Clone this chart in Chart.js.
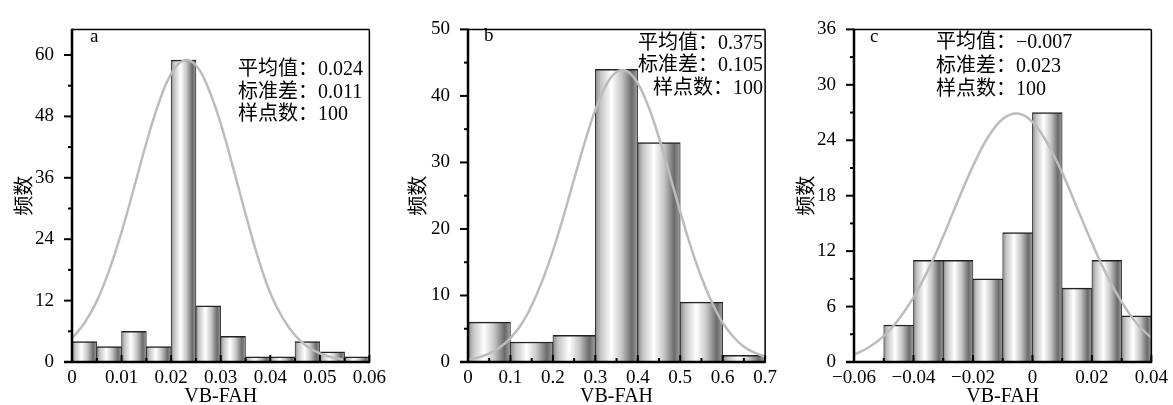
<!DOCTYPE html>
<html>
<head>
<meta charset="utf-8">
<script src="https://cdn.jsdelivr.net/npm/chart.js@4"></script>
<style>
  body { margin: 0; background: #fff; }
  .row { display: flex; width: 1173px; height: 405px; }
  canvas { display: block; }
</style>
</head>
<body>
<div class="row">
  <canvas id="chart-a" width="391" height="405"></canvas>
  <canvas id="chart-b" width="391" height="405"></canvas>
  <canvas id="chart-c" width="391" height="405"></canvas>
</div>
<script>
// panel a
const edgesA = [0, 0.005, 0.01, 0.015, 0.02, 0.025, 0.03, 0.035, 0.04, 0.045, 0.05, 0.055, 0.06];
const countsA = [4, 3, 6, 3, 59, 11, 5, 1, 1, 4, 2, 1];
const curveXA = [0, 0.0025, 0.005, 0.0075, 0.01, 0.0125, 0.015, 0.0175, 0.02, 0.0225, 0.025, 0.0275,
    0.03, 0.0325, 0.035, 0.0375, 0.04, 0.0425, 0.045, 0.0475, 0.05, 0.0525, 0.055];
const curveYA = [4.6, 7.6, 11.9, 17.9, 25.4, 34.0, 42.8, 50.6, 56.3, 58.9, 58.0, 53.5,
    46.6, 38.0, 29.0, 20.5, 13.5, 8.6, 5.2, 3.0, 1.7, 0.9, 0.4];
const statsA = ['平均值：0.024', '标准差：0.011', '样点数：100'];

// panel b
const edgesB = [0, 0.1, 0.2, 0.3, 0.4, 0.5, 0.6, 0.7];
const countsB = [6, 3, 4, 44, 33, 9, 1];
const curveXB = [0, 0.025, 0.05, 0.075, 0.1, 0.125, 0.15, 0.175, 0.2, 0.225, 0.25, 0.275, 0.3, 0.325,
    0.35, 0.375, 0.4, 0.425, 0.45, 0.475, 0.5, 0.525, 0.55, 0.575, 0.6, 0.625, 0.65, 0.675, 0.7];
const curveYB = [0.4, 0.7, 1.3, 2.2, 3.6, 5.6, 8.5, 12.2, 16.7, 21.9, 27.5, 33.0, 37.9, 41.6,
    43.6, 43.7, 41.9, 38.4, 33.7, 28.2, 22.6, 17.3, 12.7, 8.9, 5.9, 3.8, 2.3, 1.4, 0.8];
const statsB = ['平均值：0.375', '标准差：0.105', '样点数：100'];

// panel c
const edgesC = [-0.06, -0.05, -0.04, -0.03, -0.02, -0.01, 0, 0.01, 0.02, 0.03, 0.04];
const countsC = [0, 4, 11, 11, 9, 14, 27, 8, 11, 5];
const curveXC = [-0.06, -0.055, -0.05, -0.045, -0.04, -0.035, -0.03, -0.025, -0.02, -0.015, -0.01,
    -0.005, 0, 0.005, 0.01, 0.015, 0.02, 0.025, 0.03, 0.035, 0.04];
const curveYC = [0.8, 1.6, 2.8, 4.6, 7.0, 10.0, 13.6, 17.5, 21.2, 24.3, 26.3,
    26.9, 26.0, 23.7, 20.5, 16.7, 12.9, 9.4, 6.5, 4.2, 2.6];
const statsC = ['平均值：−0.007', '标准差：0.023', '样点数：100'];

const SERIF = '"Liberation Serif", "Noto Sans CJK SC", serif';
Chart.defaults.font.family = SERIF;
Chart.defaults.color = '#000';

function barGradient(c, edges) { // cylinder-like shading across each bar
    const chart = c.chart;
    const xs = chart.scales.x;
    if (c.type !== 'data' || !xs) return '#cccccc';
    const l = xs.getPixelForValue(edges[c.dataIndex]);
    const r = xs.getPixelForValue(edges[c.dataIndex + 1]);
    if (!isFinite(l) || !isFinite(r) || r <= l) return '#cccccc';
    const g = chart.ctx.createLinearGradient(l, 0, r, 0);
    g.addColorStop(0, '#8a8a8a');
    g.addColorStop(0.12, '#c4c4c4');
    g.addColorStop(0.38, '#ffffff');
    g.addColorStop(0.62, '#c6c6c6');
    g.addColorStop(0.86, '#6a6a6a');
    g.addColorStop(1, '#a0a0a0');
    return g;
}

const decor = { // frame, tick marks, panel letter and stats text
    id: 'decor',
    afterDatasetsDraw(chart, args, o) {
        const {ctx, chartArea: a, scales: {x, y}} = chart;
        const seg = (x1, y1, x2, y2) => { ctx.beginPath(); ctx.moveTo(x1, y1); ctx.lineTo(x2, y2); ctx.stroke(); };
        ctx.save();
        ctx.strokeStyle = '#000';
        ctx.lineWidth = 2;
        const yv = y.ticks.map(t => t.value);
        yv.forEach((v, i) => {
            const p = y.getPixelForValue(v);
            seg(a.left - 8, p, a.left, p);
            if (i < yv.length - 1) {
                const m = y.getPixelForValue((v + yv[i + 1]) / 2);
                seg(a.left - 4, m, a.left, m);
            }
        });
        const xv = x.ticks.map(t => t.value);
        xv.forEach((v, i) => {
            const p = x.getPixelForValue(v);
            seg(p, a.bottom, p, a.bottom - 7);
            if (i < xv.length - 1) {
                const m = x.getPixelForValue((v + xv[i + 1]) / 2);
                seg(m, a.bottom, m, a.bottom - 4);
            }
        });
        ctx.lineWidth = 1.5;
        seg(a.left, a.top, a.right, a.top);
        seg(a.right, a.top, a.right, a.bottom);
        ctx.lineWidth = 2.5;
        seg(a.left, a.top - 0.75, a.left, a.bottom);
        seg(a.left - 8, a.bottom, a.right + 0.75, a.bottom);

        ctx.fillStyle = '#000';
        ctx.textBaseline = 'middle';
        ctx.font = '19px ' + SERIF;
        ctx.textAlign = 'left';
        ctx.fillText(o.letter, o.letterX, o.letterY);
        ctx.font = '20px ' + SERIF;
        ctx.textAlign = o.align;
        o.lines.forEach((s, i) => ctx.fillText(s, o.textX, o.textY[i]));
        ctx.restore();
    }
};

function fmt(v) {
    return String(+Number(v).toFixed(4)).replace('-', '−');
}

function histogramChart(id, edges, counts, curveX, curveY, p) {
    const bars = counts.map((n, i) => ({x: (edges[i] + edges[i + 1]) / 2, y: n}));
    const curve = curveX.map((v, i) => ({x: v, y: curveY[i]}));
    new Chart(document.getElementById(id), {
        type: 'bar',
        data: {
            datasets: [{
                type: 'line',
                data: curve,
                borderColor: '#bcbcbc',
                borderWidth: 2.5,
                pointRadius: 0,
                tension: 0.4,
                order: 0
            }, {
                data: bars,
                backgroundColor: c => barGradient(c, edges),
                borderColor: '#222',
                borderWidth: {top: 1.5, left: 0.8, right: 0.8, bottom: 0},
                borderSkipped: false,
                barPercentage: 1,
                categoryPercentage: 1,
                order: 1
            }]
        },
        options: {
            responsive: false,
            animation: false,
            layout: {padding: {top: 19, right: p.padRight, left: 0, bottom: 0}},
            plugins: {
                legend: {display: false},
                tooltip: {enabled: false},
                decor: p.decor
            },
            scales: {
                x: {
                    type: 'linear',
                    offset: false,
                    min: edges[0],
                    max: edges[edges.length - 1],
                    grid: {display: false, drawTicks: false},
                    border: {display: false},
                    ticks: {stepSize: p.xStep, autoSkip: false, maxRotation: 0, padding: 5,
                        font: {size: 19}, callback: v => fmt(v)},
                    title: {display: true, text: 'VB-FAH', font: {size: 20, lineHeight: 1}, padding: {top: 0, bottom: -2}},
                    afterFit: s => { s.height = 43; }
                },
                y: {
                    min: 0,
                    max: p.yMax,
                    grid: {display: false, drawTicks: false},
                    border: {display: false},
                    ticks: {stepSize: p.yStep, includeBounds: false, padding: 18, font: {size: 19},
                        callback: v => fmt(v)},
                    title: {display: true, text: '频数', font: {size: 20, lineHeight: 1}, padding: {top: p.titlePad, bottom: 0}},
                    afterFit: s => { s.width = p.yWidth; }
                }
            }
        },
        plugins: [decor]
    });
}

histogramChart('chart-a', edgesA, countsA, curveXA, curveYA, {
    padRight: 20, yWidth: 72, yMax: 65, yStep: 12, xStep: 0.01, titlePad: 16,
    decor: {letter: 'a', letterX: 90, letterY: 37, lines: statsA, align: 'left', textX: 238, textY: [70, 92.5, 115]}
});
histogramChart('chart-b', edgesB, countsB, curveXB, curveYB, {
    padRight: 16, yWidth: 77, yMax: 50, yStep: 10, xStep: 0.1, titlePad: 19,
    decor: {letter: 'b', letterX: 93, letterY: 36, lines: statsB, align: 'right', textX: 372, textY: [43.5, 66, 88.5]}
});
histogramChart('chart-c', edgesC, countsC, curveXC, curveYC, {
    padRight: 20, yWidth: 72, yMax: 36, yStep: 6, xStep: 0.02, titlePad: 16,
    decor: {letter: 'c', letterX: 88, letterY: 37, lines: statsC, align: 'left', textX: 154, textY: [42.5, 66.5, 90]}
});
</script>
</body>
</html>
